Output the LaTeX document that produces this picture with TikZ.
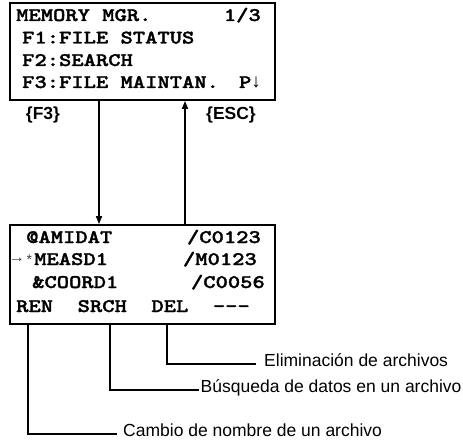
\documentclass[tikz,border=0pt]{standalone}
\usepackage{fontspec}
\setmainfont{Liberation Sans}
\newfontfamily\lcdfont{lmmonolt10-bold}[Extension=.otf,FakeStretch=1.22,FakeBold=1.6]
\usetikzlibrary{arrows.meta}

\begin{document}
\begin{tikzpicture}[x=1bp,y=-1bp,
  screen/.style={draw,line width=1.8bp,minimum width=265bp,inner sep=0pt},
  lcd/.style={font=\lcdfont\fontsize{19.2bp}{22bp}\selectfont,inner sep=0pt,anchor=base west},
  lcdr/.style={lcd,anchor=base east},
  key/.style={font=\bfseries\fontsize{17.5bp}{20bp}\selectfont,inner sep=0pt},
  note/.style={font=\fontsize{17.5bp}{20bp}\selectfont,anchor=mid west,inner ysep=0pt},
  flow/.style={line width=1.6bp,-{Triangle[length=8bp,width=6bp]}},
  lead/.style={line width=1.6bp}]
\useasboundingbox (0,0) rectangle (463,445);

% Screens.
\node[screen,minimum height=97bp] (mgr) at (142.5,51.5) {};
\node[screen,minimum height=99bp] (files) at (142.5,274.5) {};

% Memory manager screen, page 1/3.
\node[lcd] (m1) at (16,21) {MEMORY MGR.};
\node[lcdr] (pg) at (261,21) {1/3};
\node[lcd] (m2) at (22,43.5) {F1:FILE STATUS};
\node[lcd] (m3) at (22,66) {F2:SEARCH};
\node[lcd] (m4) at (22,88) {F3:FILE MAINTAN.};
\node[lcdr] (pdn) at (261,88) {P{\rmfamily\fontsize{19bp}{19bp}\selectfont ↓}};

% File list screen.
\node[lcd] (f1) at (26,243) {@AMIDAT};
\node[lcdr] (f1r) at (261,243) {/C0123};
\node[font=\fontsize{16bp}{16bp}\selectfont,text=black!75,inner sep=0pt,anchor=east] (ptr) at (25,260) {→};
\node[font=\fontsize{14bp}{14bp}\selectfont,text=black!75,inner sep=0pt,anchor=base west] (star) at (26.5,264) {*};
\node[lcd] (f2) at (34,265) {MEASD1};
\node[lcdr] (f2r) at (257,265) {/M0123};
\node[lcd] (f3) at (32,288) {\&COORD1};
\node[lcdr] (f3r) at (265,288) {/C0056};
\node[lcd] (f4) at (16,312) {REN~~SRCH~~DEL~~-{}-{}-};

% Key labels and screen changes.
\coordinate (dn) at (99,0);
\coordinate (up) at (185,0);
\node[key] (kf3) at (43,115) {\{F3\}};
\node[key] (kesc) at (231,115) {\{ESC\}};
\draw[flow] (mgr.south -| dn) -- (files.north -| dn);
\draw[flow] (files.north -| up) -- (mgr.south -| up);

% Soft key callouts.
\coordinate (ren) at (28,0);
\coordinate (srch) at (110,0);
\coordinate (del) at (167,0);
\node[note,inner xsep=8bp] (dell) at (256,364) {Eliminación de archivos};
\node[note,inner xsep=1.5bp] (srchl) at (199,390) {Búsqueda de datos en un archivo};
\node[note,inner xsep=6bp] (renl) at (117,434) {Cambio de nombre de un archivo};
\draw[lead] (files.south -| del) |- (dell.mid west);
\draw[lead] (files.south -| srch) |- (srchl.mid west);
\draw[lead] (files.south -| ren) |- (renl.mid west);
\end{tikzpicture}
\end{document}
